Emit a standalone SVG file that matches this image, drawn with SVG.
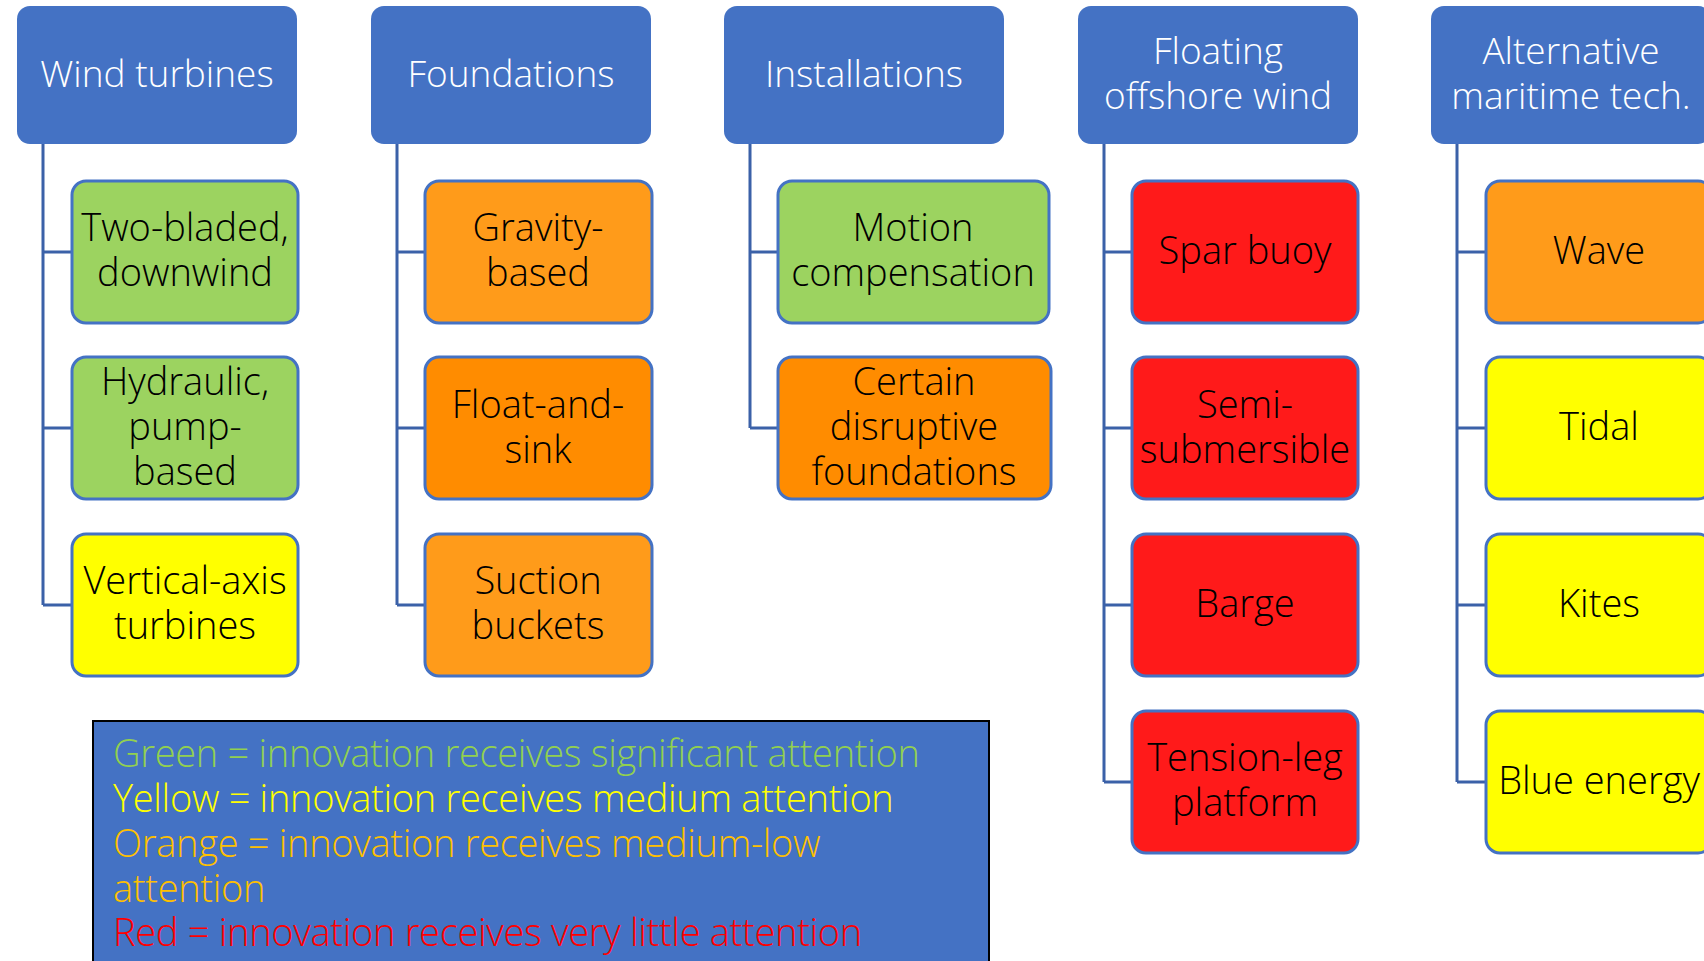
<svg xmlns="http://www.w3.org/2000/svg" width="1704" height="961" viewBox="0 0 1704 961">
  <style>
    text { font-family: "Open Sans", "Segoe UI", "Liberation Sans", sans-serif; font-weight: 300; text-anchor: middle; }
    .hdr rect { fill: #4472C4; }
    .hdr text { fill: #FFFFFF; font-size: 37px; }
    .item rect { stroke: #4472C4; stroke-width: 3; }
    .item text { fill: #000000; font-size: 38px; }
    .green rect { fill: #9CD360; }
    .yellow rect { fill: #FFFF00; }
    .orange rect { fill: #FF9B1A; }
    .dkorange rect { fill: #FF8C00; }
    .red rect { fill: #FF1A1A; }
    #connectors path { fill: none; stroke: #3B61A8; stroke-width: 3; }
    #legend text { font-size: 38px; letter-spacing: -0.3px; text-anchor: start; }
  </style>

  <rect width="1704" height="961" fill="#FFFFFF"/>

  <!-- tree connectors: trunk from each header, branch to each child -->
  <g id="connectors">
    <path d="M43 144 V605 M43 252 H72 M43 428 H72 M43 605 H72"/>
    <path d="M397 144 V605 M397 252 H425 M397 428 H425 M397 605 H425"/>
    <path d="M750 144 V428 M750 252 H778 M750 428 H778"/>
    <path d="M1104 144 V782 M1104 252 H1132 M1104 428 H1132 M1104 605 H1132 M1104 782 H1132"/>
    <path d="M1457 144 V782 M1457 252 H1486 M1457 428 H1486 M1457 605 H1486 M1457 782 H1486"/>
  </g>

  <!-- column headers -->
  <g id="hdr-wind" class="hdr">
    <rect x="17" y="6" width="280" height="138" rx="13"/>
    <text x="157" y="87">Wind turbines</text>
  </g>
  <g id="hdr-foundations" class="hdr">
    <rect x="371" y="6" width="280" height="138" rx="13"/>
    <text x="511" y="87">Foundations</text>
  </g>
  <g id="hdr-installations" class="hdr">
    <rect x="724" y="6" width="280" height="138" rx="13"/>
    <text x="864" y="87">Installations</text>
  </g>
  <g id="hdr-floating" class="hdr">
    <rect x="1078" y="6" width="280" height="138" rx="13"/>
    <text x="1218" y="64">Floating</text>
    <text x="1218" y="109">offshore wind</text>
  </g>
  <g id="hdr-alternative" class="hdr">
    <rect x="1431" y="6" width="280" height="138" rx="13"/>
    <text x="1571" y="64">Alternative</text>
    <text x="1571" y="109">maritime tech.</text>
  </g>

  <!-- Wind turbines -->
  <g id="two-bladed" class="item green">
    <rect x="72" y="181" width="226" height="142" rx="14"/>
    <text x="185" y="241">Two-bladed,</text>
    <text x="185" y="286">downwind</text>
  </g>
  <g id="hydraulic" class="item green">
    <rect x="72" y="357" width="226" height="142" rx="14"/>
    <text x="185" y="395">Hydraulic,</text>
    <text x="185" y="440">pump-</text>
    <text x="185" y="485">based</text>
  </g>
  <g id="vertical-axis" class="item yellow">
    <rect x="72" y="534" width="226" height="142" rx="14"/>
    <text x="185" y="594">Vertical-axis</text>
    <text x="185" y="639">turbines</text>
  </g>

  <!-- Foundations -->
  <g id="gravity" class="item orange">
    <rect x="425" y="181" width="227" height="142" rx="14"/>
    <text x="538" y="241">Gravity-</text>
    <text x="538" y="286">based</text>
  </g>
  <g id="float-sink" class="item dkorange">
    <rect x="425" y="357" width="227" height="142" rx="14"/>
    <text x="538" y="418">Float-and-</text>
    <text x="538" y="463">sink</text>
  </g>
  <g id="suction" class="item orange">
    <rect x="425" y="534" width="227" height="142" rx="14"/>
    <text x="538" y="594">Suction</text>
    <text x="538" y="639">buckets</text>
  </g>

  <!-- Installations -->
  <g id="motion" class="item green">
    <rect x="778" y="181" width="271" height="142" rx="14"/>
    <text x="913" y="241">Motion</text>
    <text x="913" y="286">compensation</text>
  </g>
  <g id="disruptive" class="item dkorange">
    <rect x="778" y="357" width="273" height="142" rx="14"/>
    <text x="914" y="395">Certain</text>
    <text x="914" y="440">disruptive</text>
    <text x="914" y="485">foundations</text>
  </g>

  <!-- Floating offshore wind -->
  <g id="spar" class="item red">
    <rect x="1132" y="181" width="226" height="142" rx="14"/>
    <text x="1245" y="264">Spar buoy</text>
  </g>
  <g id="semi" class="item red">
    <rect x="1132" y="357" width="226" height="142" rx="14"/>
    <text x="1245" y="418">Semi-</text>
    <text x="1245" y="463">submersible</text>
  </g>
  <g id="barge" class="item red">
    <rect x="1132" y="534" width="226" height="142" rx="14"/>
    <text x="1245" y="617">Barge</text>
  </g>
  <g id="tension-leg" class="item red">
    <rect x="1132" y="711" width="226" height="142" rx="14"/>
    <text x="1245" y="771">Tension-leg</text>
    <text x="1245" y="816">platform</text>
  </g>

  <!-- Alternative maritime tech. -->
  <g id="wave" class="item orange">
    <rect x="1486" y="181" width="226" height="142" rx="14"/>
    <text x="1599" y="264">Wave</text>
  </g>
  <g id="tidal" class="item yellow">
    <rect x="1486" y="357" width="226" height="142" rx="14"/>
    <text x="1599" y="440">Tidal</text>
  </g>
  <g id="kites" class="item yellow">
    <rect x="1486" y="534" width="226" height="142" rx="14"/>
    <text x="1599" y="617">Kites</text>
  </g>
  <g id="blue-energy" class="item yellow">
    <rect x="1486" y="711" width="226" height="142" rx="14"/>
    <text x="1599" y="794">Blue energy</text>
  </g>

  <!-- colour key -->
  <g id="legend">
    <rect x="93" y="721" width="896" height="260" fill="#4472C4" stroke="#000000" stroke-width="2"/>
    <text x="113" y="767" fill="#92D050">Green = innovation receives significant attention</text>
    <text x="113" y="812" fill="#FFFF00">Yellow = innovation receives medium attention</text>
    <text x="113" y="857" fill="#FFC000">Orange = innovation receives medium-low</text>
    <text x="113" y="902" fill="#FFC000">attention</text>
    <text x="113" y="946" fill="#FF0000">Red = innovation receives very little attention</text>
  </g>
</svg>
